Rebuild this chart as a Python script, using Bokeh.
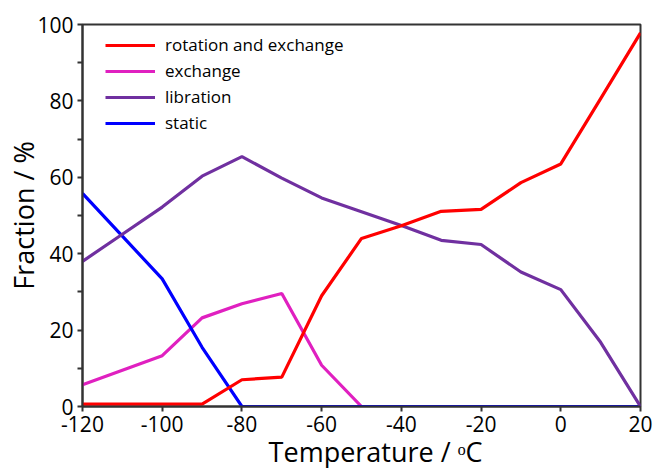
from bokeh.plotting import figure
from bokeh.models import Range1d, Legend, LegendItem, FixedTicker
from bokeh.embed import file_html
from bokeh.resources import INLINE

temperature = [-120, -110, -100, -90, -80, -70, -60, -50, -40, -30, -20, -10, 0, 10, 20]
rotation_exchange = [0.6, 0.6, 0.6, 0.6, 7.0, 7.7, 29.0, 44.0, 47.3, 51.1, 51.6, 58.6, 63.5, 80.6, 97.8]
exchange = [5.7, 9.5, 13.3, 23.2, 26.9, 29.6, 10.8, 0, 0, 0, 0, 0, 0, 0, 0]
libration = [38.0, 45.1, 52.2, 60.3, 65.4, 59.8, 54.6, 51.0, 47.4, 43.5, 42.4, 35.2, 30.6, 16.8, 0]
static = [55.8, 44.6, 33.4, 15.5, 0, 0, 0, 0, 0, 0, 0, 0, 0, 0, 0]

series_names = ["rotation and exchange", "exchange", "libration", "static"]
series_colors = ["#FF0000", "#E020C0", "#7030A0", "#0000FF"]
x_ticks = [-120, -100, -80, -60, -40, -20, 0, 20]
x_tick_labels = ["-120", "-100", "-80", "-60", "-40", "-20", "0", "20"]
y_ticks = [0, 20, 40, 60, 80, 100]
y_minor_ticks = [10, 30, 50, 70, 90]

FONT = "Open Sans"

p = figure(frame_width=558, frame_height=382, output_backend="svg", toolbar_location=None,
           x_range=Range1d(-120, 20), y_range=Range1d(0, 100),
           min_border_left=82, min_border_right=14, min_border_top=24, min_border_bottom=56)
p.grid.visible = False
p.background_fill_color = "white"
p.border_fill_color = "white"
p.outline_line_color = "#333333"
p.outline_line_width = 2

data = [rotation_exchange, exchange, libration, static]
renderers = {}
for idx in [1, 3, 2, 0]:
    r = p.line(temperature, data[idx], line_color=series_colors[idx], line_width=3.2)
    renderers[idx] = r

legend = Legend(items=[LegendItem(label=series_names[i], renderers=[renderers[i]]) for i in range(4)])
legend.location = (23, 272)
legend.margin = 0
legend.padding = 0
legend.border_line_color = None
legend.background_fill_alpha = 0
legend.glyph_width = 50
legend.glyph_height = 20
legend.spacing = 3
legend.label_standoff = 10
legend.label_text_font = FONT
legend.label_text_font_size = "17px"
legend.label_text_color = "black"
p.add_layout(legend, "center")

for ax in (p.xaxis[0], p.yaxis[0]):
    ax.axis_line_color = "#333333"
    ax.axis_line_width = 2
    ax.major_tick_line_color = "#333333"
    ax.major_tick_line_width = 2
    ax.minor_tick_line_color = "#333333"
    ax.minor_tick_line_width = 2
    ax.major_tick_in = 0
    ax.major_tick_out = 5
    ax.minor_tick_in = 0
    ax.minor_tick_out = 5
    ax.major_label_text_font = FONT
    ax.major_label_text_font_size = "21px"
    ax.major_label_text_color = "black"
    ax.axis_label_text_font = FONT
    ax.axis_label_text_font_size = "27px"
    ax.axis_label_text_font_style = "normal"
    ax.axis_label_text_color = "black"

p.xaxis[0].ticker = FixedTicker(ticks=x_ticks)
p.xaxis[0].major_label_overrides = dict(zip(x_ticks, x_tick_labels))
p.yaxis[0].ticker = FixedTicker(ticks=y_ticks, minor_ticks=y_minor_ticks)
p.xaxis[0].major_label_standoff = 4
p.yaxis[0].major_label_standoff = 4
p.xaxis[0].axis_label = "\u00a0\u00a0\u00a0\u00a0Temperature / ᵒC"
p.yaxis[0].axis_label = "Fraction / %"
p.xaxis[0].axis_label_standoff = -2
p.yaxis[0].axis_label_standoff = -8

open("out.html", "w").write(file_html(p, INLINE))
